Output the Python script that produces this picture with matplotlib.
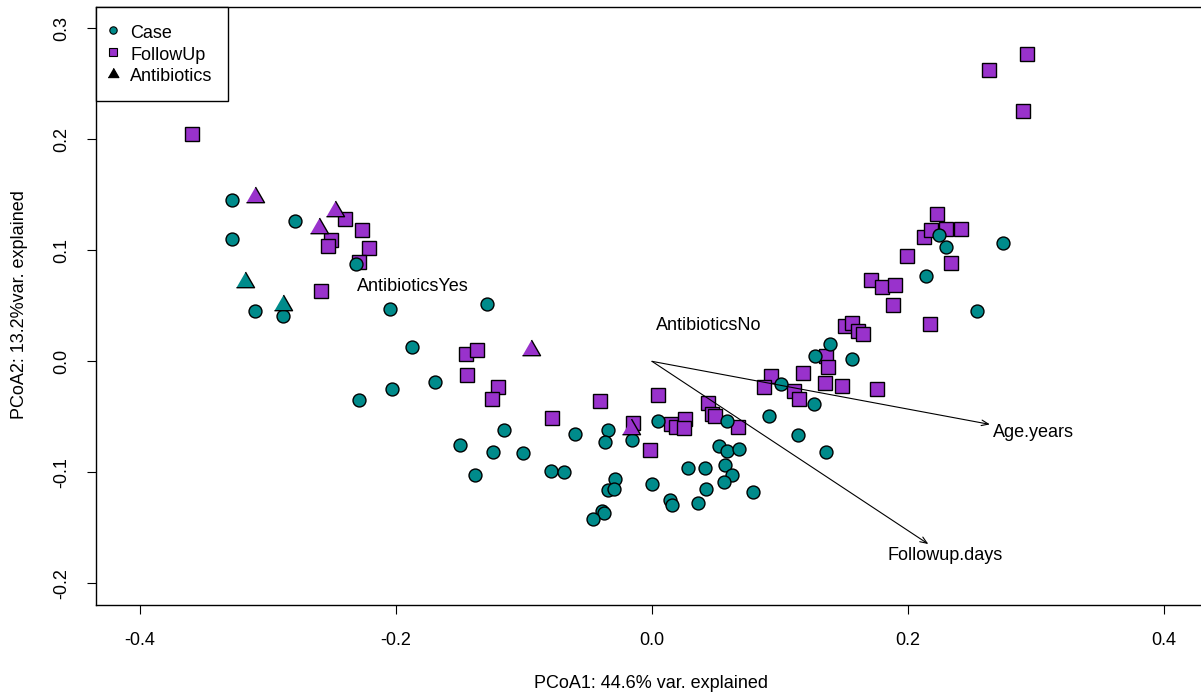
import matplotlib
matplotlib.use("Agg")
import matplotlib.pyplot as plt
from matplotlib.lines import Line2D

plt.rcParams['font.family'] = ['Liberation Sans', 'DejaVu Sans']

# PCoA site scores
case_x = [-0.328, -0.328, -0.279, -0.310, -0.288, -0.2315, -0.205, -0.129, -0.1875, -0.229,
          -0.203, -0.1695, -0.1156, -0.150, -0.124, -0.101, -0.138, -0.060, -0.079, -0.069,
          -0.034, -0.037, -0.016, -0.029, -0.034, -0.030, 0.0, -0.039, -0.0375, -0.046,
          0.005, 0.014, 0.0156, 0.028, 0.0417, 0.042, 0.036, 0.0526, 0.0583, 0.0589,
          0.0682, 0.0568, 0.0627, 0.0562, 0.0786, 0.0917, 0.101, 0.114, 0.136, 0.1266,
          0.1276, 0.139, 0.1565, 0.224, 0.230, 0.2143, 0.2745, 0.2537]
case_y = [0.145, 0.110, 0.126, 0.045, 0.041, 0.088, 0.047, 0.052, 0.013, -0.035,
          -0.025, -0.019, -0.062, -0.0754, -0.0817, -0.0826, -0.1024, -0.0652, -0.0985, -0.0994,
          -0.0619, -0.0727, -0.0712, -0.1057, -0.116, -0.1153, -0.1108, -0.135, -0.137, -0.1418,
          -0.054, -0.125, -0.1297, -0.0964, -0.0964, -0.115, -0.1274, -0.0763, -0.0805, -0.0538,
          -0.0787, -0.0937, -0.1024, -0.1084, -0.118, -0.0493, -0.020, -0.0664, -0.082, -0.0388,
          0.005, 0.0153, 0.0018, 0.1138, 0.103, 0.0768, 0.1063, 0.0456]

follow_x = [-0.3596, -0.240, -0.2263, -0.2208, -0.2508, -0.2534, -0.2289, -0.2586, -0.1456, -0.1367,
            -0.1443, -0.1206, -0.1248, -0.0784, -0.0409, -0.0151, 0.0047, -0.0013, 0.0146, 0.0188,
            0.026, 0.025, 0.0437, 0.0471, 0.0495, 0.0674, 0.093, 0.0873, 0.111, 0.1146,
            0.118, 0.1354, 0.1362, 0.1378, 0.1487, 0.1758, 0.1505, 0.156, 0.1612, 0.1646,
            0.188, 0.171, 0.1799, 0.1896, 0.199, 0.2169, 0.2127, 0.2182, 0.2224, 0.230,
            0.2412, 0.234, 0.2932, 0.263, 0.290]
follow_y = [0.2045, 0.128, 0.118, 0.1018, 0.109, 0.1039, 0.0897, 0.0633, 0.0066, 0.0102,
            -0.0123, -0.0234, -0.034, -0.0514, -0.0358, -0.0559, -0.030, -0.0796, -0.0568, -0.0594,
            -0.0523, -0.0598, -0.0378, -0.0475, -0.0493, -0.0589, -0.013, -0.0229, -0.027, -0.034,
            -0.0108, -0.0196, 0.0045, -0.0049, -0.022, -0.025, 0.032, 0.0342, 0.0276, 0.0246,
            0.0507, 0.0735, 0.0672, 0.069, 0.0946, 0.0339, 0.1123, 0.118, 0.1324, 0.1195,
            0.1195, 0.0883, 0.2771, 0.2624, 0.2258]

abx_case_x = [-0.318, -0.288]
abx_case_y = [0.0717, 0.0507]
abx_follow_x = [-0.310, -0.248, -0.260, -0.0945, -0.0167]
abx_follow_y = [0.148, 0.135, 0.120, 0.010, -0.061]

# fitted environmental vectors
vec_names = ["Age.years", "Followup.days"]
vec_x = [0.264, 0.2159]
vec_y = [-0.0568, -0.1646]
vec_label_x = [0.298, 0.229]
vec_label_y = [-0.064, -0.1745]

# factor centroids
fac_names = ["AntibioticsYes", "AntibioticsNo"]
fac_x = [-0.187, 0.0443]
fac_y = [0.067, 0.0327]

teal = "#008B8B"
purple = "#9932CC"
FS = 13

# equilateral triangle, centred on its centroid (R pch 24 look)
tri = [(-1.0, -0.577), (1.0, -0.577), (0.0, 1.155)]

fig = plt.figure(figsize=(12.01, 6.96), dpi=100)
ax = fig.add_axes([96 / 1201, 1 - 605 / 696, 1107 / 1201, 598 / 696])

ax.plot(follow_x, follow_y, ls="none", marker="s", ms=9.5, mfc=purple, mec="black", mew=1.0)
ax.plot(case_x, case_y, ls="none", marker="o", ms=9.3, mfc=teal, mec="black", mew=1.0)
ax.plot(abx_case_x, abx_case_y, ls="none", marker=tri, ms=15, mfc=teal, mec="black", mew=1.0)
ax.plot(abx_follow_x, abx_follow_y, ls="none", marker=tri, ms=15, mfc=purple, mec="black", mew=1.0)

for name, vx, vy, lx, ly in zip(vec_names, vec_x, vec_y, vec_label_x, vec_label_y):
    ax.annotate("", xy=(vx, vy), xytext=(0, 0),
                arrowprops=dict(arrowstyle="->,head_length=0.5,head_width=0.2",
                                color="black", lw=0.8, shrinkA=0, shrinkB=0))
    ax.text(lx, ly, name, ha="center", va="center", fontsize=FS)

for name, fx, fy in zip(fac_names, fac_x, fac_y):
    ax.text(fx, fy, name, ha="center", va="center", fontsize=FS)

ax.set_xlim(-0.4344, 0.4305)
ax.set_ylim(-0.2195, 0.3192)
ax.set_xticks([-0.4, -0.2, 0.0, 0.2, 0.4])
ax.set_xticklabels(["-0.4", "-0.2", "0.0", "0.2", "0.4"])
ax.set_yticks([-0.2, -0.1, 0.0, 0.1, 0.2, 0.3])
ax.set_yticklabels(["-0.2", "-0.1", "0.0", "0.1", "0.2", "0.3"], rotation=90, va="center")
ax.tick_params(axis="both", direction="out", length=6.5, width=0.8, labelsize=FS)
ax.tick_params(axis="x", pad=13)
ax.tick_params(axis="y", pad=12)
for sp in ax.spines.values():
    sp.set_linewidth(1.0)

fig.text(651.5 / 1201, 1 - 684 / 696, "PCoA1: 44.6% var. explained", ha="center", va="center", fontsize=FS)
fig.text(20 / 1201, 1 - 304.5 / 696, "PCoA2: 13.2%var. explained", ha="center", va="center",
         rotation=90, fontsize=FS)

handles = [
    Line2D([], [], ls="none", marker="o", ms=5.3, mfc=teal, mec="black", mew=0.8),
    Line2D([], [], ls="none", marker="s", ms=5.8, mfc=purple, mec="black", mew=0.8),
    Line2D([], [], ls="none", marker=tri, ms=9, mfc="black", mec="black", mew=0.8),
]
leg = ax.legend(handles, ["Case", "FollowUp", "Antibiotics"], loc="upper left",
                borderaxespad=0, fancybox=False, framealpha=1, edgecolor="black",
                fontsize=FS, handlelength=0.2, handleheight=1.2, handletextpad=0.83,
                labelspacing=0.13, borderpad=0.86)
leg.get_frame().set_linewidth(1.0)

fig.savefig("out.png", dpi=100)
